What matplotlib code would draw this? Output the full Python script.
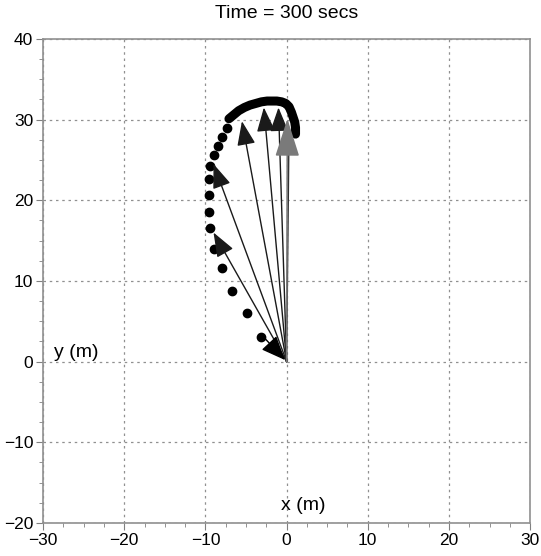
'''
Trajectory snapshot at t = 300 s
'''
import matplotlib.pyplot as plt
from matplotlib.ticker import MultipleLocator

# trail of positions (sparse part)
dot_x = [-3.1, -4.9, -6.7, -8.0, -8.9, -9.4, -9.6, -9.6, -9.6, -9.4, -9.0, -8.5, -7.9, -7.4]
dot_y = [3.1, 6.0, 8.8, 11.6, 14.0, 16.6, 18.6, 20.7, 22.6, 24.2, 25.6, 26.7, 27.8, 28.9]

# trail of positions (dense arc at the top)
arc_x = [-7.1, -6.5, -5.9, -5.2, -4.5, -3.8, -3.1, -2.4, -1.8, -1.2, -0.6, -0.1, 0.3, 0.6, 0.8, 1.0, 1.1, 1.1]
arc_y = [30.1, 30.6, 31.1, 31.5, 31.8, 32.0, 32.2, 32.3, 32.3, 32.3, 32.2, 32.0, 31.6, 30.9, 30.3, 29.7, 29.0, 28.2]

# arrow tips from the origin
tip_x = [-9.0, -9.0, -5.5, -2.8, -1.0]
tip_y = [16.0, 24.5, 29.8, 31.5, 31.5]
gray_tip = (0.1, 30.1)
short_arrow = ((-2.6, 2.8), (-0.2, 0.2))

plt.rcParams['font.family'] = ['Liberation Sans', 'DejaVu Sans']

fig = plt.figure(figsize=(5.41, 5.56), dpi=100)
ax = fig.add_axes([0.0795, 0.0594, 0.9005, 0.8706])

ax.plot(dot_x, dot_y, 'o', color='black', markersize=6, zorder=3)
ax.plot(arc_x, arc_y, '-', color='black', lw=6.5, solid_capstyle='round', zorder=3)

for x, y in zip(tip_x, tip_y):
    ax.annotate('', xy=(x, y), xytext=(0, 0),
                arrowprops=dict(arrowstyle='-|>,head_length=1.0,head_width=0.38',
                                mutation_scale=15, color='#1a1a1a', lw=1,
                                shrinkA=0, shrinkB=0), zorder=4)

ax.plot([0, 0.3], [0, 29.0], color='#303030', lw=1, zorder=4)
ax.annotate('', xy=gray_tip, xytext=(0, 0),
            arrowprops=dict(arrowstyle='-|>,head_length=1.0,head_width=0.32',
                            mutation_scale=24, color='#7a7a7a', lw=1.2,
                            shrinkA=0, shrinkB=0), zorder=5)
ax.annotate('', xy=short_arrow[1], xytext=short_arrow[0],
            arrowprops=dict(arrowstyle='-|>,head_length=1.0,head_width=0.42',
                            mutation_scale=15, color='black', lw=1,
                            shrinkA=0, shrinkB=0), zorder=4)

ax.set_xlim(-30, 30)
ax.set_ylim(-20, 40)
ax.xaxis.set_major_locator(MultipleLocator(10))
ax.yaxis.set_major_locator(MultipleLocator(10))
ax.xaxis.set_minor_locator(MultipleLocator(2.5))
ax.yaxis.set_minor_locator(MultipleLocator(2.5))
ax.tick_params(which='major', length=5, color='#808080', labelsize=12.5, pad=2)
ax.tick_params(which='minor', length=3, color='#808080')
ax.grid(True, which='major', linestyle=(0, (2, 3)), color='#909090', lw=0.9)
for s in ax.spines.values():
    s.set_color('#909090')
    s.set_linewidth(1.2)

ax.text(-28.6, 1.1, 'y (m)', fontsize=14, va='center', ha='left')
ax.text(2.0, -17.8, 'x (m)', fontsize=14, va='center', ha='center')
ax.set_title('Time = 300 secs', fontsize=14, pad=15)

fig.savefig('out.png', dpi=100)
